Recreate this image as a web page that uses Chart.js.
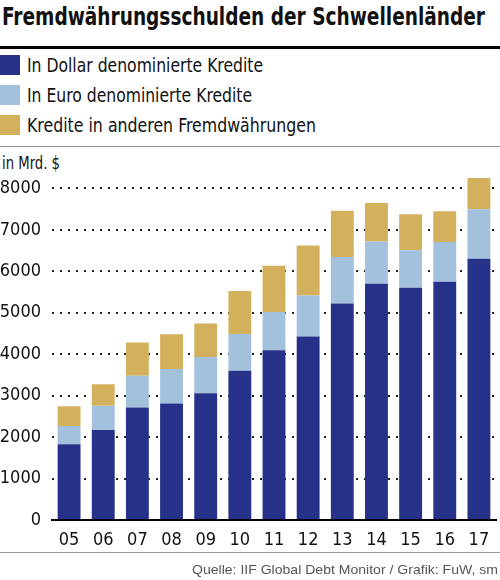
<!DOCTYPE html>
<html>
<head>
<meta charset="utf-8">
<script src="https://cdn.jsdelivr.net/npm/chart.js@4"></script>
<style>
    body { margin: 0; background: #fff; }
    #wrap { position: relative; width: 500px; height: 580px; overflow: hidden; font-family: "DejaVu Sans Condensed", "Liberation Sans", sans-serif; color: #111; }
    .fit { position: absolute; white-space: nowrap; transform-origin: left top; }
    #title { left: 2px; top: 2px; font-weight: bold; font-size: 25px; }
    .rule { position: absolute; left: 0; width: 500px; }
    .swatch { position: absolute; left: 0; width: 20px; height: 20px; }
    .leg { left: 27px; font-size: 20px; line-height: 20px; }
    #unit { left: 2px; top: 152px; font-size: 18px; }
    #source { top: 562px; font-family: "Liberation Sans", sans-serif; font-size: 13px; color: #555; }
    #box { position: absolute; left: 0; top: 150px; width: 500px; height: 403px; }
</style>
</head>
<body>
<div id="wrap">
    <div id="title" class="fit" data-w="483">Fremdwährungsschulden der Schwellenländer</div>
    <div class="rule" style="top:46px;height:3px;background:#000"></div>
    <div id="legend"></div>
    <div class="rule" style="top:146px;height:1px;background:#999"></div>
    <div id="unit" class="fit" data-w="58">in Mrd. $</div>
    <div id="box"><canvas id="myChart"></canvas></div>
    <div class="rule" style="top:552px;height:1px;background:#999"></div>
    <div id="source" class="fit" data-w="306" style="left:192px">Quelle: IIF Global Debt Monitor / Grafik: FuW, sm</div>
</div>
<script>
/* globals Chart:false */

const years = ["05", "06", "07", "08", "09", "10", "11", "12", "13", "14", "15", "16", "17"];
const dollarLoans = [1830, 2170, 2715, 2810, 3060, 3600, 4095, 4425, 5220, 5700, 5605, 5750, 6305];
const euroLoans = [435, 585, 765, 830, 875, 890, 925, 990, 1125, 1020, 900, 955, 1190];
const otherLoans = [480, 520, 800, 840, 805, 1035, 1115, 1210, 1115, 925, 870, 745, 755];
const yTicks = [0, 1000, 2000, 3000, 4000, 5000, 6000, 7000, 8000];

const seriesNames = [
    "In Dollar denominierte Kredite",
    "In Euro denominierte Kredite",
    "Kredite in anderen Fremdwährungen",
];
const seriesColors = ["#26318a", "#a3c1dd", "#d2b05c"];
const legendWidths = [236, 225, 289]; // text widths

(() => {
    "use strict";

    // legend above the chart
    const legend = document.getElementById("legend");
    seriesNames.forEach((name, i) => {
        const sw = document.createElement("div");
        sw.className = "swatch";
        sw.style.top = (55 + i * 30) + "px";
        sw.style.background = seriesColors[i];
        legend.appendChild(sw);

        const row = document.createElement("div");
        row.className = "fit leg";
        row.style.top = (55 + i * 30) + "px";
        row.dataset.w = legendWidths[i];
        row.textContent = name;
        legend.appendChild(row);
    });

    // squeeze the texts to the condensed width of the original
    document.querySelectorAll(".fit").forEach((el) => {
        const w = el.getBoundingClientRect().width;
        el.style.transform = "scaleX(" + (el.dataset.w / w) + ")";
    });

    const font = { family: '"DejaVu Sans Condensed", sans-serif', size: 18 };

    const ctx = document.getElementById("myChart");
    // eslint-disable-next-line no-unused-vars
    const myChart = new Chart(ctx, {
        type: "bar",
        data: {
            labels: years,
            datasets: [dollarLoans, euroLoans, otherLoans].map((values, i) => ({
                label: seriesNames[i],
                data: values,
                backgroundColor: seriesColors[i],
                categoryPercentage: 1,
                barPercentage: 0.67,
            })),
        },
        options: {
            responsive: true,
            maintainAspectRatio: false,
            animation: false,
            layout: { padding: { top: 21.4, right: 4, left: 0, bottom: 0 } },
            plugins: {
                legend: { display: false },
                tooltip: { enabled: false },
            },
            scales: {
                x: {
                    stacked: true,
                    afterFit: (scale) => { scale.height = 33; },
                    grid: { display: false, drawTicks: false },
                    border: { display: true, color: "#000", width: 2 },
                    ticks: { color: "#111", font: font, padding: 10 },
                },
                y: {
                    stacked: true,
                    min: 0,
                    max: 8400,
                    afterFit: (scale) => { scale.width = 52; },
                    afterBuildTicks: (scale) => {
                        scale.ticks = yTicks.map((v) => ({ value: v }));
                    },
                    grid: {
                        drawTicks: false,
                        color: (c) => (c.tick.value === 0 ? "transparent" : "#222"),
                        lineWidth: 2,
                    },
                    border: { display: false, dash: [2, 6] },
                    ticks: {
                        color: "#111",
                        font: font,
                        padding: 11,
                        callback: (v) => String(v),
                    },
                },
            },
        },
    });
})();
</script>
</body>
</html>
